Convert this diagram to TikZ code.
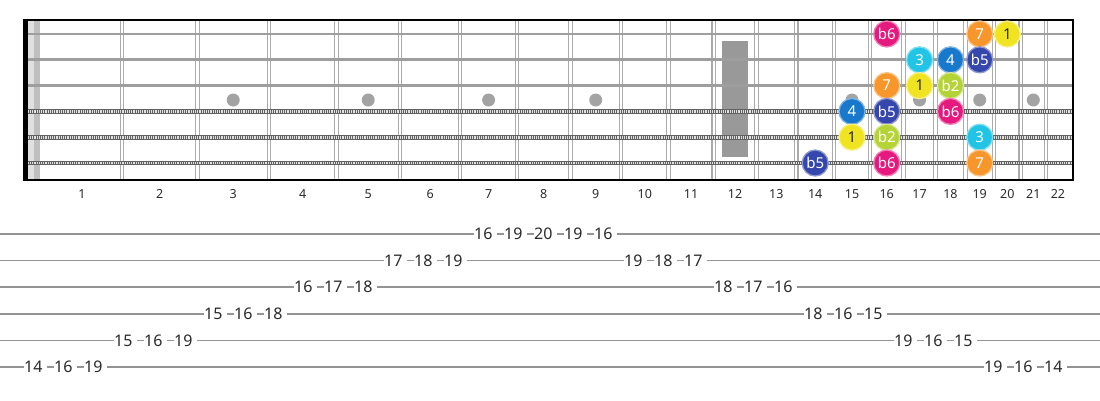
\documentclass[tikz,border=0pt]{standalone}
\usepackage{fontspec}
\setmainfont{Noto Sans}
\definecolor{cBsix}{HTML}{E5197E}
\definecolor{cSeven}{HTML}{F7962A}
\definecolor{cOne}{HTML}{F0E422}
\definecolor{cThree}{HTML}{22C4E6}
\definecolor{cFour}{HTML}{1878CC}
\definecolor{cBfive}{HTML}{3546AC}
\definecolor{cBtwo}{HTML}{B3D336}
\definecolor{txtdark}{HTML}{2A2A2A}
\begin{document}
\begin{tikzpicture}[x=1pt,y=-1pt,
  declare function={fx(\n)=41.9+1429*(1-pow(2,-\n/12)); mx(\n)=(fx(\n-1)+fx(\n))/2; sy(\s)=34+25.8*(\s-1); ty(\s)=234+26.6*(\s-1);},
  fretline/.style={line width=1.1pt, black!33},
  plainstring/.style={line width=2.8pt, black!38},
  woundbase/.style={line width=4.8pt, black!62},
  woundtick/.style={line width=2.8pt, black!12, dash pattern=on 1.1pt off 1.1pt},
  inlay/.style={circle, fill=black!36, minimum size=13pt, inner sep=0},
  notedot/.style={circle, minimum size=26pt, inner sep=0, line width=1.3pt, font=\fontsize{15}{15}\selectfont, text=white},
  fretnum/.style={font=\fontsize{12.5}{12.5}\selectfont, text=txtdark},
  tabline/.style={line width=1.6pt, black!42},
  tabnum/.style={anchor=west, fill=white, inner xsep=0pt, inner ysep=1pt, font=\fontsize{16}{16}\selectfont, text=txtdark}
]
\useasboundingbox (0,0) rectangle (1100,400);
% nut area
\fill[black!12] (27.8,20) rectangle (34,180);
\fill[black!25] (34,20) rectangle (39.5,180);
% 12th fret block
\fill[black!40] (722,41) rectangle (748,157);
% frets
\foreach \n in {1,...,21}{
  \draw[fretline] ({fx(\n)-1.7},20) -- ({fx(\n)-1.7},180);
  \draw[fretline] ({fx(\n)+1.7},20) -- ({fx(\n)+1.7},180);
}
% inlay dots
\foreach \n in {3,5,7,9,15,17,19,21}
  \node[inlay] (dot\n) at ({mx(\n)},100) {};
% strings
\foreach \s in {1,2,3}
  \draw[plainstring] (27.8,{sy(\s)}) -- (1073,{sy(\s)});
\foreach \s in {4,5,6}{
  \draw[woundbase] (27.8,{sy(\s)}) -- (1073,{sy(\s)});
  \draw[woundtick] (27.8,{sy(\s)}) -- (1073,{sy(\s)});
}
% border
\draw[line width=2pt] (23,20) -- (1073,20) -- (1073,180) -- (23,180);
\fill[black] (22.5,19) rectangle (27.8,181);
% notes
\foreach \s/\f/\l/\c/\t in {
  1/16/b6/cBsix/white, 1/19/7/cSeven/white, 1/20/1/cOne/txtdark,
  2/17/3/cThree/white, 2/18/4/cFour/white, 2/19/b5/cBfive/white,
  3/16/7/cSeven/white, 3/17/1/cOne/txtdark, 3/18/b2/cBtwo/white,
  4/15/4/cFour/white, 4/16/b5/cBfive/white, 4/18/b6/cBsix/white,
  5/15/1/cOne/txtdark, 5/16/b2/cBtwo/white, 5/19/3/cThree/white,
  6/14/b5/cBfive/white, 6/16/b6/cBsix/white, 6/19/7/cSeven/white}
  \node[notedot, fill=\c, draw=\c!55!white, text=\t] (n\s-\f) at ({mx(\f)},{sy(\s)}) {\l};
% fret numbers
\foreach \n in {1,...,22}
  \node[fretnum] (fn\n) at ({mx(\n)},194) {\n};
% tab
\foreach \s in {1,...,6}
  \draw[tabline] (0,{ty(\s)}) -- (1100,{ty(\s)});
\foreach \k/\s/\v in {
  0/6/14, 1/6/16, 2/6/19, 3/5/15, 4/5/16, 5/5/19,
  6/4/15, 7/4/16, 8/4/18, 9/3/16, 10/3/17, 11/3/18,
  12/2/17, 13/2/18, 14/2/19,
  15/1/16, 16/1/19, 17/1/20, 18/1/19, 19/1/16,
  20/2/19, 21/2/18, 22/2/17, 23/3/18, 24/3/17, 25/3/16,
  26/4/18, 27/4/16, 28/4/15, 29/5/19, 30/5/16, 31/5/15,
  32/6/19, 33/6/16, 34/6/14}
  \node[tabnum] (t\k) at ({33+30*\k-9.1},{ty(\s)}) {\v\kern4.5pt};
\end{tikzpicture}
\end{document}
